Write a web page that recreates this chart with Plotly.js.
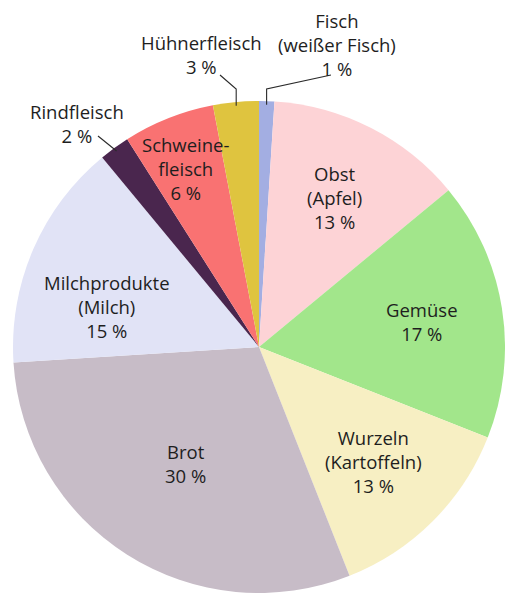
<!DOCTYPE html>
<html>
<head>
<meta charset="utf-8">
<script src="https://cdn.plot.ly/plotly-3.0.1.min.js"></script>
<style>html,body{margin:0;padding:0;background:#fff;}#chart{width:505px;height:594px;}</style>
</head>
<body>
<div id="chart"></div>
<script>
// ---- data ----
const categories = ['Fisch<br>(weißer Fisch)', 'Obst<br>(Apfel)', 'Gemüse', 'Wurzeln<br>(Kartoffeln)', 'Brot', 'Milchprodukte<br>(Milch)', 'Rindfleisch', 'Schweine-<br>fleisch', 'Hühnerfleisch'];
const values = [1, 13, 17, 13, 30, 15, 2, 6, 3];
const percentLabels = ['1 %', '13 %', '17 %', '13 %', '30 %', '15 %', '2 %', '6 %', '3 %'];
const colors = ['#a3aee2', '#fdd3d6', '#a2e68b', '#f7efc3', '#c7bcc7', '#e1e3f6', '#4a264e', '#f97272', '#dfc43f'];

// ---- layout / style ----
const W = 505, H = 594;
const dom = {x: [13 / W, 1], y: [1 / H, 493 / H]};
const FONT = '"Open Sans", Lato, sans-serif';
const FS = 18.5;
const TXT = '#1e1e1e';
// label placement: inside -> radius fraction + offset ; outside -> text centre & leader start
const labelCfg = [
  {mode: 'out', tx: 337, ty: 44, lx: 331, ly: 75, elbowY: 89},
  {mode: 'in', f: 0.68, dx: 0, dy: 0},
  {mode: 'in', f: 0.67, dx: 0, dy: 0},
  {mode: 'in', f: 0.66, dx: 0, dy: 0},
  {mode: 'in', f: 0.56, dx: 0, dy: 0},
  {mode: 'in', f: 0.66, dx: -3, dy: 24},
  {mode: 'out', tx: 77, ty: 124, lx: 98, ly: 136, elbowY: null},
  {mode: 'in', f: 0.78, dx: -3, dy: 0},
  {mode: 'out', tx: 201, ty: 55, lx: 220, ly: 75, elbowY: 89}
];

// pie geometry in pixels (derived from the domain)
const dW = (dom.x[1] - dom.x[0]) * W, dH = (dom.y[1] - dom.y[0]) * H;
const R = Math.min(dW, dH) / 2;
const CX = (dom.x[0] + dom.x[1]) / 2 * W;
const CY = (1 - (dom.y[0] + dom.y[1]) / 2) * H;
const total = values.reduce((a, b) => a + b, 0);
function pt(angDeg, rr) {
  const a = angDeg * Math.PI / 180;
  return [CX + rr * Math.sin(a), CY - rr * Math.cos(a)];
}
const px = x => x / W, py = y => 1 - y / H;

const annotations = [];
const shapes = [];
let cum = 0;
values.forEach((v, i) => {
  const mid = (cum + v / 2) / total * 360;
  cum += v;
  const c = labelCfg[i];
  const text = categories[i] + '<br>' + percentLabels[i];
  let tx, ty;
  if (c.mode === 'in') {
    const p = pt(mid, R * c.f);
    tx = p[0] + c.dx; ty = p[1] + c.dy;
  } else {
    tx = c.tx; ty = c.ty;
    const edge = pt(mid, R * 0.985);
    let path;
    if (c.elbowY !== null) {
      path = 'M ' + px(c.lx) + ' ' + py(c.ly) + ' L ' + px(edge[0]) + ' ' + py(c.elbowY) +
             ' L ' + px(edge[0]) + ' ' + py(edge[1]);
    } else {
      path = 'M ' + px(c.lx) + ' ' + py(c.ly) + ' L ' + px(edge[0]) + ' ' + py(edge[1]);
    }
    shapes.push({type: 'path', xref: 'paper', yref: 'paper', path: path,
      line: {color: '#2a2a2a', width: 1.1}});
  }
  annotations.push({
    xref: 'paper', yref: 'paper', x: px(tx), y: py(ty),
    xanchor: 'center', yanchor: 'middle', align: 'center',
    text: text, showarrow: false,
    font: {family: FONT, size: FS, color: TXT}
  });
});

const trace = {
  type: 'pie',
  labels: categories,
  values: values,
  sort: false,
  direction: 'clockwise',
  rotation: 0,
  textinfo: 'none',
  hoverinfo: 'none',
  domain: dom,
  marker: {colors: colors, line: {width: 0}},
  showlegend: false
};

Plotly.newPlot('chart', [trace], {
  width: W, height: H,
  margin: {l: 0, r: 0, t: 0, b: 0},
  paper_bgcolor: '#ffffff',
  plot_bgcolor: '#ffffff',
  showlegend: false,
  annotations: annotations,
  shapes: shapes,
  font: {family: FONT, size: FS, color: TXT}
}, {staticPlot: true, displayModeBar: false});
</script>
</body>
</html>
